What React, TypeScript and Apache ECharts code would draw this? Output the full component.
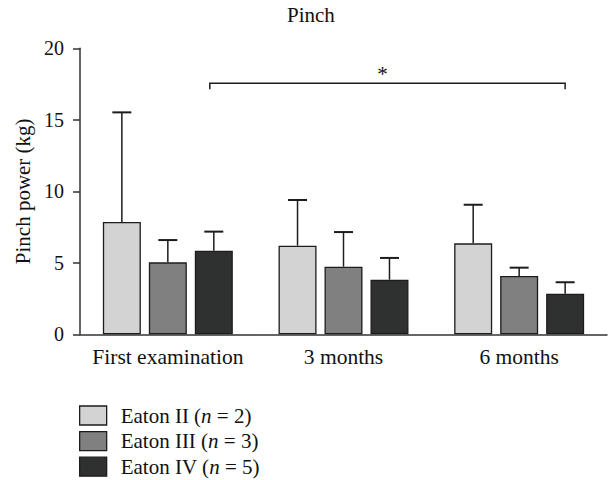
import React, { useEffect, useRef } from "react";
import * as echarts from "echarts";

const categories = ["First examination", "3 months", "6 months"];
const seriesNames = ["Eaton II", "Eaton III", "Eaton IV"];
const seriesN = [2, 3, 5];
const eatonII = [7.85, 6.2, 6.36];
const eatonIII = [5.03, 4.73, 4.08];
const eatonIV = [5.85, 3.82, 2.84];
const errTopII = [15.52, 9.39, 9.06];
const errTopIII = [6.59, 7.15, 4.66];
const errTopIV = [7.18, 5.34, 3.64];
const yTicks = { min: 0, max: 20, interval: 5 };
// significance bracket: from [category, bar] to [category, bar] at value
const bracket = { fromCat: 0, fromBar: 2, toCat: 2, toBar: 2, value: 17.55, label: "*" };

const colors = ["#d3d3d3", "#808080", "#2f3130"];
const FONT = "Liberation Serif";
const BAR_FRAC = 0.2163;
const GAP_FRAC = 0.21;
const CHART_H = 520;

export default function App() {
  const ref = useRef<HTMLDivElement>(null);
  useEffect(() => {
    document.body.style.margin = "0";
    if (!ref.current) return;
    const chart = echarts.init(ref.current, null, { renderer: "svg" });
    const means = [eatonII, eatonIII, eatonIV];
    const tops = [errTopII, errTopIII, errTopIV];

    const barOffset = (api: any, bar: number) => {
      const catW = api.size([1, 0])[0];
      return (bar - 1) * catW * BAR_FRAC * (1 + GAP_FRAC);
    };

    const errData: any[] = [];
    means.forEach((m, s) => m.forEach((v, c) => errData.push([c, s, v, tops[s][c]])));

    const barSeries = seriesNames.map((name, s) => ({
      type: "bar",
      name,
      data: means[s],
      barWidth: BAR_FRAC * 100 + "%",
      barGap: GAP_FRAC * 100 + "%",
      itemStyle: { color: colors[s], borderColor: "#1c1c1c", borderWidth: 1.3 },
      emphasis: { disabled: true },
      z: 2,
    }));

    chart.setOption({
      animation: false,
      title: {
        text: "Pinch",
        left: 287,
        top: 4,
        padding: 0,
        textStyle: { fontFamily: FONT, fontSize: 21, fontWeight: "normal", color: "#111" },
      },
      grid: { left: 80, right: 1, top: 48.3, height: 286, containLabel: false },
      legend: {
        orient: "vertical",
        left: 79,
        top: 405,
        padding: 0,
        icon: "rect",
        itemWidth: 27,
        itemHeight: 19,
        itemGap: 4.6,
        data: seriesNames,
        formatter: (name: string) => {
          const i = seriesNames.indexOf(name);
          return `{a|${name} (}{i|n}{a| = ${seriesN[i]})}`;
        },
        textStyle: {
          fontFamily: FONT,
          fontSize: 21,
          lineHeight: 20,
          color: "#111",
          padding: [0, 0, 0, 9],
          rich: {
            a: { fontFamily: FONT, fontSize: 21, lineHeight: 20, color: "#111" },
            i: { fontFamily: FONT, fontSize: 21, lineHeight: 20, color: "#111", fontStyle: "italic" },
          },
        },
        itemStyle: { borderColor: "#1c1c1c", borderWidth: 1.3 },
      },
      xAxis: {
        type: "category",
        data: categories,
        axisLine: { lineStyle: { color: "#333", width: 1.5 } },
        axisTick: { alignWithLabel: true, length: 6, lineStyle: { color: "#333", width: 1.5 } },
        axisLabel: { fontFamily: FONT, fontSize: 21.5, color: "#111", margin: 12, interval: 0 },
      },
      yAxis: {
        type: "value",
        min: yTicks.min,
        max: yTicks.max,
        interval: yTicks.interval,
        name: "Pinch power (kg)",
        nameLocation: "middle",
        nameGap: 39,
        nameTextStyle: { fontFamily: FONT, fontSize: 21, color: "#111" },
        axisLine: { show: true, lineStyle: { color: "#333", width: 1.5 } },
        axisTick: { show: true, length: 7, lineStyle: { color: "#333", width: 1.5 } },
        axisLabel: { fontFamily: FONT, fontSize: 20, color: "#111", margin: 16 },
        splitLine: { show: false },
      },
      series: [
        ...barSeries,
        {
          type: "custom",
          data: errData,
          z: 3,
          silent: true,
          renderItem: (params: any, api: any) => {
            const c = api.value(0);
            const s = api.value(1);
            const base = api.coord([c, api.value(2)]);
            const top = api.coord([c, api.value(3)]);
            const x = base[0] + barOffset(api, s);
            const cap = 9.5;
            return {
              type: "group",
              children: [
                {
                  type: "line",
                  shape: { x1: x, y1: base[1], x2: x, y2: top[1] },
                  style: { stroke: "#1c1c1c", lineWidth: 1.5 },
                },
                {
                  type: "line",
                  shape: { x1: x - cap, y1: top[1], x2: x + cap, y2: top[1] },
                  style: { stroke: "#1c1c1c", lineWidth: 2 },
                },
              ],
            };
          },
        },
        {
          type: "custom",
          data: [[bracket.fromCat, bracket.fromBar, bracket.toCat, bracket.toBar, bracket.value]],
          z: 3,
          silent: true,
          renderItem: (params: any, api: any) => {
            const p1 = api.coord([api.value(0), api.value(4)]);
            const p2 = api.coord([api.value(2), api.value(4)]);
            const x1 = p1[0] + barOffset(api, api.value(1)) - 4;
            const x2 = p2[0] + barOffset(api, api.value(3));
            const y = p1[1];
            return {
              type: "group",
              children: [
                {
                  type: "polyline",
                  shape: { points: [[x1, y + 6], [x1, y], [x2, y], [x2, y + 6]] },
                  style: { stroke: "#1c1c1c", lineWidth: 1.5, fill: "none" },
                },
                {
                  type: "text",
                  style: {
                    text: bracket.label,
                    x: (x1 + x2) / 2 - 5,
                    y: y - 9,
                    align: "center",
                    verticalAlign: "middle",
                    fontFamily: FONT,
                    fontSize: 21,
                    fill: "#111",
                  },
                },
              ],
            };
          },
        },
      ],
    });
    return () => chart.dispose();
  }, []);
  return <div ref={ref} style={{ width: 608, height: CHART_H }} />;
}
